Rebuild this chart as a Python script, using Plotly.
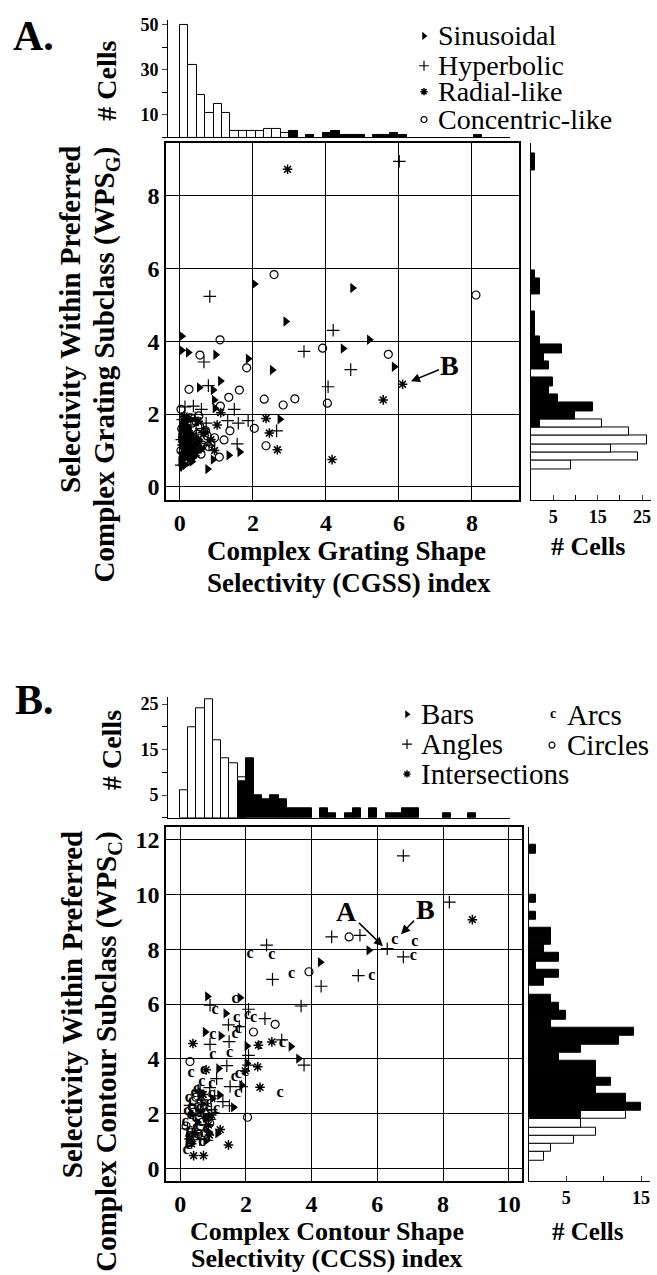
import plotly.graph_objects as go

W, H = 657, 1275
FONT = "Liberation Serif"

# ---------------- Panel A data ----------------
sin_A_x = [2.04, 4.73, 2.90, 5.19, 0.05, 0.05, 0.23, 0.98, 1.87, 2.53, 4.47, 5.87, 1.11, 0.53, 0.91, 0.94, 2.74, 1.64, 1.34, 0.76, 0.91, 0.96,
           0.02, 0.05, 0.08, 0.10, 0.12, 0.15, 0.18, 0.20, 0.03, 0.06, 0.09, 0.13, 0.16, 0.19, 0.22, 0.25, 0.28, 0.31, 0.35, 0.40,
           0.04, 0.07, 0.11, 0.14, 0.17, 0.21, 0.26, 0.30, 0.33, 0.38, 0.45, 0.52, 0.60, 0.02, 0.05, 0.09, 0.12, 0.24, 0.36, 0.48]
sin_A_y = [5.57, 5.46, 4.54, 4.04, 4.14, 3.75, 3.69, 3.63, 3.52, 3.21, 3.80, 3.30, 2.91, 2.73, 2.66, 2.39, 1.86, 0.96, 0.87, 0.49, 0.75, 2.16,
           0.70, 0.85, 0.95, 1.10, 1.25, 0.80, 1.40, 1.00, 1.55, 1.20, 0.65, 1.45, 0.90, 1.30, 1.05, 0.75, 1.15, 0.95, 1.35, 0.85,
           1.70, 1.60, 1.80, 0.60, 1.50, 1.65, 1.25, 1.45, 0.70, 1.10, 0.95, 1.30, 1.05, 1.35, 0.55, 1.75, 1.90, 1.55, 0.80, 1.20]
hyp_A_x = [6.01, 0.82, 4.20, 3.40, 4.68, 4.06, 0.66, 0.78, 1.49, 1.60, 1.87, 2.65, 1.57, 1.31, 0.59, 0.37, 0.14,
           0.05, 0.12, 0.18, 0.24, 0.30, 0.38, 0.45, 0.52, 0.60, 0.08, 0.15, 0.22, 0.33, 0.42, 0.50, 0.66, 0.04, 0.28, 0.72, 0.80]
hyp_A_y = [8.94, 5.23, 4.30, 3.72, 3.22, 2.75, 3.43, 2.78, 2.13, 1.75, 1.82, 1.54, 1.18, 1.82, 2.13, 2.22, 2.20,
           1.30, 0.95, 1.55, 1.20, 1.70, 0.85, 1.45, 1.10, 1.60, 1.85, 1.05, 0.75, 1.35, 1.90, 1.25, 1.50, 0.60, 1.00, 1.75, 1.15]
rad_A_x = [2.95, 6.10, 5.57, 4.17, 2.36, 2.45, 2.67, 1.02, 1.12, 0.25,
           0.06, 0.15, 0.22, 0.35, 0.44, 0.58, 0.70, 0.12, 0.28, 0.50, 0.85, 0.95]
rad_A_y = [8.72, 2.82, 2.39, 0.75, 1.88, 1.48, 1.02, 1.70, 2.04, 1.89,
           1.15, 1.70, 0.90, 1.40, 1.25, 1.05, 1.50, 1.95, 1.10, 1.80, 1.30, 1.00]
con_A_x = [2.58, 8.11, 1.10, 0.55, 1.83, 3.91, 5.71, 0.25, 1.63, 1.34, 2.31, 3.15, 2.83, 4.04, 0.52, 1.11, 0.03, 2.04, 1.37, 2.36, 1.21, 0.78, 1.08,
           0.03, 0.08, 0.14, 0.20, 0.27, 0.33, 0.40, 0.48, 0.55, 0.62, 0.70, 0.10, 0.18, 0.25, 0.36, 0.44, 0.58, 0.66, 0.05, 0.15, 0.30, 0.42, 0.75, 0.85, 0.95]
con_A_y = [5.83, 5.27, 4.04, 3.62, 3.27, 3.81, 3.64, 2.68, 2.66, 2.46, 2.41, 2.42, 2.25, 2.30, 1.95, 2.22, 2.13, 1.61, 1.54, 1.13, 1.29, 1.11, 0.82,
           1.00, 1.35, 0.85, 1.60, 1.20, 1.75, 0.95, 1.45, 1.65, 1.15, 1.55, 1.85, 0.70, 1.40, 1.05, 1.80, 0.90, 1.30, 1.60, 1.15, 1.90, 1.25, 1.40, 1.20, 1.35]

# histogram counts, panel A
topA_bin = 0.23
topA_white = [50, 32, 19, 11, 15, 11, 3, 3, 3, 3, 4, 4, 2]
topA_black = [0, 0, 0, 0, 0, 0, 0, 0, 0, 0, 0, 0, 0, 3, 0, 1, 0, 2, 3, 1, 1, 1, 0, 1, 1, 2, 1, 0, 0, 0, 0, 0, 0, 0, 0, 1]
rightA_start = 0.49
rightA_bin = 0.2277
rightA_white = [9, 24, 18, 26, 22, 16]
rightA_black = [0, 0, 0, 0, 0, 2, 10, 14, 6, 4, 5, 0, 4, 3, 7, 2, 1, 1, 1, 0, 0, 2, 2, 1,
                0, 0, 0, 0, 0, 0, 0, 0, 0, 0, 0, 0, 1, 1]

# ---------------- Panel B data ----------------
bar_B_x = [5.74, 4.26, 0.83, 1.39, 1.82, 0.76, 1.24, 2.03, 3.37, 3.60, 1.17, 1.87, 1.20, 1.62, 1.14, 2.03,
           0.35, 0.52, 0.68, 0.85, 0.98, 0.25, 0.60, 0.78]
bar_B_y = [7.96, 7.53, 6.28, 5.66, 6.23, 4.98, 4.84, 4.47, 4.45, 4.01, 3.65, 3.04, 2.68, 2.23, 1.28, 3.84,
           2.00, 1.70, 2.35, 1.35, 2.55, 1.15, 2.80, 1.00]
ang_B_x = [6.79, 8.19, 4.61, 5.47, 6.30, 6.79, 2.63, 2.81, 4.29, 5.42, 3.68, 3.77, 2.08, 2.58, 1.47, 0.91, 0.91, 1.49, 1.42, 2.08, 2.08, 1.52, 1.87, 1.30, 1.50, 0.61, 1.11, 1.80, 3.09,
           0.30, 0.48, 0.65, 0.80, 0.95, 1.05, 0.38, 0.55, 0.72, 0.22, 0.60, 0.90]
ang_B_y = [11.41, 9.72, 8.45, 8.51, 8.02, 7.72, 8.15, 6.90, 6.65, 7.04, 5.93, 3.77, 5.81, 5.47, 5.24, 5.96, 4.53, 4.63, 3.75, 4.13, 3.77, 2.99, 2.99, 2.44, 2.29, 2.80, 3.28, 5.18, 4.69,
           2.30, 1.95, 2.50, 1.60, 2.15, 2.65, 1.25, 2.85, 1.90, 1.45, 1.05, 2.95]
int_B_x = [8.89, 0.39, 2.38, 2.79, 2.36, 0.79, 2.43, 1.98, 1.47, 0.41, 0.71, 1.22, 0.89, 0.86, 0.27,
           0.45, 0.62, 0.80, 0.35, 0.96, 0.70]
int_B_y = [9.08, 4.56, 4.50, 4.62, 3.71, 3.60, 2.96, 3.56, 0.86, 0.47, 0.47, 1.42, 1.22, 1.59, 1.08,
           1.30, 2.10, 1.85, 0.90, 1.95, 2.70]
arc_B_x = [6.53, 7.14, 7.09, 5.83, 2.13, 2.79, 3.39, 1.67, 1.06, 1.72, 2.23, 2.05, 1.77, 0.99, 1.67, 2.41, 3.11, 0.99, 1.50, 0.33, 0.71, 1.77, 1.98, 1.65, 0.66, 0.96, 1.75, 3.04, 0.25, 0.51, 0.30, 0.61, 0.48, 0.58, 0.18, 0.86, 1.11,
           0.20, 0.35, 0.45, 0.62, 0.75, 0.88, 1.00, 0.28, 0.40, 0.55, 0.70, 0.82, 0.95, 0.15, 0.32, 0.50, 0.66, 0.78, 0.92, 0.42, 0.58, 0.25]
arc_B_y = [8.32, 8.27, 7.75, 7.04, 7.84, 7.78, 7.10, 6.19, 5.77, 5.50, 5.48, 5.59, 5.08, 4.86, 4.90, 4.50, 4.59, 4.13, 4.23, 3.50, 3.60, 3.44, 3.53, 3.32, 3.16, 3.08, 2.75, 2.75, 2.56, 2.29, 1.95, 1.68, 1.50, 1.20, 0.68, 2.23, 2.17,
           2.10, 2.45, 1.85, 2.60, 2.05, 2.40, 1.90, 1.40, 1.10, 1.55, 1.30, 1.75, 2.70, 1.70, 2.25, 2.90, 0.95, 1.45, 1.15, 2.75, 2.20, 0.85]
cir_B_x = [5.14, 3.92, 2.89, 0.30, 2.05, 0.86, 0.30, 2.23,
           0.18, 0.40, 0.56, 0.74, 0.90, 0.32, 0.64, 0.48]
cir_B_y = [8.45, 7.18, 5.26, 3.90, 1.87, 1.87, 1.20, 4.98,
           1.55, 2.05, 1.25, 2.00, 1.65, 0.95, 2.45, 2.60]

topB_bin = 0.25
topB_white = [6, 20, 24, 26, 17, 13, 12, 9]
topB_black = [0, 0, 0, 0, 0, 0, 0, 8, 13, 5, 4, 5, 4, 2, 2, 2, 0, 2, 1, 0, 1, 2, 0, 2, 0, 1, 1, 2, 2, 0, 0, 0, 1, 0, 0, 1]
rightB_start = 0.29
rightB_bin = 0.303
rightB_white = [2, 3, 6, 9, 7, 13]
rightB_black = [0, 0, 0, 0, 0, 7, 15, 13, 9, 11, 9, 9, 4, 7, 12, 14, 3, 5, 4, 3, 0, 2, 4, 1, 4, 2, 3, 3, 0, 1, 0, 1,
                0, 0, 0, 0, 0, 1]

# tick labels
scatterA_ticks = [0, 2, 4, 6, 8]
scatterB_xticks = [0, 2, 4, 6, 8, 10]
scatterB_yticks = [0, 2, 4, 6, 8, 10, 12]
topA_ticks = [10, 30, 50]
rightA_ticks = [5, 15, 25]
topB_ticks = [5, 15, 25]
rightB_ticks = [5, 15]

# ---------------- layout helpers ----------------
def fx(px):
    return px / W

def fy(py):
    return 1 - py / H

fig = go.Figure()

def mk(x, y, sym, size, xa, ya, filled=False, lw=1.2):
    if filled:
        marker = dict(symbol=sym, size=size, color="black", line=dict(width=0))
    else:
        marker = dict(symbol=sym, size=size, color="black", line=dict(color="black", width=lw))
    fig.add_trace(go.Scatter(x=x, y=y, mode="markers", marker=marker, xaxis=xa, yaxis=ya,
                             hoverinfo="skip", cliponaxis=True))

def txt(x, y, t, size, xa, ya):
    fig.add_trace(go.Scatter(x=x, y=y, mode="text", text=[t] * len(x), textposition="middle center",
                             textfont=dict(family=FONT, size=size, color="black", weight="bold"),
                             xaxis=xa, yaxis=ya, hoverinfo="skip"))

def bars_v(counts, start, width, color, xa, ya):
    xs = [start + width * (i + 0.5) for i, c in enumerate(counts) if c > 0]
    ys = [c for c in counts if c > 0]
    fig.add_trace(go.Bar(x=xs, y=ys, width=width, marker=dict(color=color, line=dict(color="black", width=1)),
                         xaxis=xa, yaxis=ya, hoverinfo="skip"))

def bars_h(counts, start, width, color, xa, ya):
    ys = [start + width * (i + 0.5) for i, c in enumerate(counts) if c > 0]
    xs = [c for c in counts if c > 0]
    fig.add_trace(go.Bar(x=xs, y=ys, width=width, orientation="h",
                         marker=dict(color=color, line=dict(color="black", width=1)),
                         xaxis=xa, yaxis=ya, hoverinfo="skip"))

# ---- Panel A scatter ----
mk(con_A_x, con_A_y, "circle-open", 8, "x", "y")
mk(hyp_A_x, hyp_A_y, "cross-thin-open", 9, "x", "y")
mk(rad_A_x, rad_A_y, "asterisk-open", 8, "x", "y", lw=1.5)
mk(sin_A_x, sin_A_y, "triangle-right", 9, "x", "y", filled=True)
# ---- Panel A histograms ----
bars_v(topA_white, 0, topA_bin, "white", "x2", "y2")
bars_v(topA_black, 0, topA_bin, "black", "x2", "y2")
bars_h(rightA_white, rightA_start, rightA_bin, "white", "x3", "y3")
bars_h(rightA_black, rightA_start, rightA_bin, "black", "x3", "y3")

# ---- Panel B scatter ----
mk(cir_B_x, cir_B_y, "circle-open", 8, "x4", "y4")
txt(arc_B_x, arc_B_y, "c", 16, "x4", "y4")
mk(ang_B_x, ang_B_y, "cross-thin-open", 9, "x4", "y4")
mk(int_B_x, int_B_y, "asterisk-open", 8, "x4", "y4", lw=1.5)
mk(bar_B_x, bar_B_y, "triangle-right", 9, "x4", "y4", filled=True)
# ---- Panel B histograms ----
bars_v(topB_white, 0, topB_bin, "white", "x5", "y5")
bars_v(topB_black, 0, topB_bin, "black", "x5", "y5")
bars_h(rightB_white, rightB_start, rightB_bin, "white", "x6", "y6")
bars_h(rightB_black, rightB_start, rightB_bin, "black", "x6", "y6")

# ---- legend markers (overlay pixel axis) ----
mk([424], [31], "triangle-right", 7, "x7", "y7", filled=True)
mk([424], [61], "cross-thin-open", 7, "x7", "y7")
mk([424], [87], "asterisk-open", 6, "x7", "y7", lw=1.5)
mk([424], [115], "circle-open", 6, "x7", "y7")
mk([407], [712], "triangle-right", 7, "x7", "y7", filled=True)
mk([407], [742], "cross-thin-open", 7, "x7", "y7")
mk([407], [772], "asterisk-open", 6, "x7", "y7", lw=1.5)
txt([553], [712], "c", 14, "x7", "y7")
mk([552], [743], "circle-open", 6, "x7", "y7")

tickfont_big = dict(family=FONT, size=24, color="black", weight="bold")
tickfont_small = dict(family=FONT, size=18, color="black", weight="bold")

def scatter_axes(xr, yr, xdom, ydom, xt, yt):
    xa = dict(domain=xdom, range=xr, showgrid=True, gridcolor="black", gridwidth=1,
              zeroline=False, showline=True, mirror=True, linecolor="black", linewidth=1.5,
              ticks="", tickfont=tickfont_big, tickvals=xt, fixedrange=True)
    ya = dict(domain=ydom, range=yr, showgrid=True, gridcolor="black", gridwidth=1,
              zeroline=False, showline=True, mirror=True, linecolor="black", linewidth=1.5,
              ticks="", tickfont=tickfont_big, tickvals=yt, fixedrange=True)
    return xa, ya

xa1, ya1 = scatter_axes([-0.38, 9.29], [-0.36, 9.43], [fx(166), fx(519)], [fy(497), fy(139)],
                        scatterA_ticks, scatterA_ticks)
xa4, ya4 = scatter_axes([-0.43, 10.4], [-0.47, 12.47], [fx(166), fx(522)], [fy(1181), fy(825)],
                        scatterB_xticks, scatterB_yticks)
xa4["anchor"] = "y4"
ya4["anchor"] = "x4"

def hist_x_top(dom, rng, anc):
    return dict(domain=dom, range=rng, showline=True, linecolor="black", linewidth=1,
                showgrid=False, zeroline=False, showticklabels=False, ticks="",
                anchor=anc, fixedrange=True)

def count_axis(dom, rng, anc, tv, minor_step, ticks):
    return dict(domain=dom, range=rng, anchor=anc, showline=True, linecolor="black", linewidth=1,
                showgrid=False, zeroline=False, ticks=ticks, ticklen=5, tickwidth=1,
                tickvals=tv, tickfont=tickfont_small, fixedrange=True,
                minor=dict(ticks=ticks, ticklen=5, tickwidth=1, tick0=0, dtick=minor_step,
                           showgrid=False, tickcolor="black"))

layout = dict(
    width=W, height=H, margin=dict(l=0, r=0, t=0, b=0),
    paper_bgcolor="white", plot_bgcolor="rgba(0,0,0,0)",
    showlegend=False, barmode="overlay", bargap=0,
    font=dict(family=FONT, color="black"),
    xaxis=xa1, yaxis=ya1,
    xaxis2=hist_x_top([fx(168), fx(510)], [-12 / 36.5, 330 / 36.5], "y2"),
    yaxis2=count_axis([fy(133), fy(15)], [0, 52], "x2", topA_ticks, 10, "outside"),
    xaxis3=count_axis([fx(531), fx(651)], [0, 27], "y3", rightA_ticks, 5, "inside"),
    yaxis3=dict(domain=[fy(497), fy(139)], range=[-0.36, 9.43], anchor="x3", showline=True, linecolor="black",
                linewidth=1, showgrid=False, zeroline=False, showticklabels=False, ticks="", fixedrange=True),
    xaxis4=xa4, yaxis4=ya4,
    xaxis5=hist_x_top([fx(168), fx(510)], [-12 / 32.9, 330 / 32.9], "y5"),
    yaxis5=count_axis([fy(816), fy(695)], [0, 26.5], "x5", topB_ticks, 5, "outside"),
    xaxis6=count_axis([fx(529), fx(650)], [0, 16.2], "y6", rightB_ticks, 5, "inside"),
    yaxis6=dict(domain=[fy(1181), fy(825)], range=[-0.47, 12.47], anchor="x6", showline=True, linecolor="black",
                linewidth=1, showgrid=False, zeroline=False, showticklabels=False, ticks="", fixedrange=True),
    xaxis7=dict(domain=[0, 1], range=[0, W], anchor="y7", visible=False, fixedrange=True),
    yaxis7=dict(domain=[0, 1], range=[H, 0], anchor="x7", visible=False, fixedrange=True),
)
fig.update_layout(**layout)

ann = []

def label(px, py, text, size, bold=True, angle=0, xanchor="center", yanchor="middle"):
    t = f"<b>{text}</b>" if bold else text
    ann.append(dict(x=fx(px), y=fy(py), xref="paper", yref="paper", text=t, showarrow=False,
                    textangle=angle, xanchor=xanchor, yanchor=yanchor,
                    font=dict(family=FONT, size=size, color="black")))

# panel letters
label(11, 31, "A.", 42, xanchor="left")
label(13, 698, "B.", 42, xanchor="left")
# histogram y titles
label(107, 76, "# Cells", 28, angle=-90)
label(111, 748, "# Cells", 28, angle=-90)
# right hist titles
label(588, 544, "# Cells", 26)
label(588, 1231, "# Cells", 25)
# x titles
label(346, 548, "Complex Grating Shape", 27)
label(349, 580, "Selectivity (CGSS) index", 27)
label(327, 1231, "Complex Contour Shape", 26)
label(327, 1258, "Selectivity (CCSS) index", 26)
# y titles
label(70, 140, "Selectivity Within Preferred", 29, angle=-90, yanchor="top")
label(106, 140, "Complex Grating Subclass (WPS<sub>G</sub>)", 29, angle=-90, yanchor="top")
label(72, 828, "Selectivity Within Preferred", 29, angle=-90, yanchor="top")
label(108, 828, "Complex Contour Subclass (WPS<sub>C</sub>)", 29, angle=-90, yanchor="top")
# legends
for yy, t in zip([31, 61, 87, 115], ["Sinusoidal", "Hyperbolic", "Radial-like", "Concentric-like"]):
    label(436, yy, t, 28, bold=False, xanchor="left")
for yy, t in zip([712, 742, 772], ["Bars", "Angles", "Intersections"]):
    label(419, yy, t, 29, bold=False, xanchor="left")
for yy, t in zip([713, 743], ["Arcs", "Circles"]):
    label(565, yy, t, 29, bold=False, xanchor="left")

# arrows
ann.append(dict(x=6.33, y=2.90, xref="x", yref="y", ax=39, ay=-16, text="<b>B</b>", showarrow=True,
                arrowhead=2, arrowsize=1.2, arrowwidth=1.5, arrowcolor="black", standoff=0,
                font=dict(family=FONT, size=28, color="black")))
ann.append(dict(x=6.17, y=8.11, xref="x4", yref="y4", ax=-36, ay=-35, text="<b>A</b>", showarrow=True,
                arrowhead=2, arrowsize=1.2, arrowwidth=1.5, arrowcolor="black", standoff=0,
                font=dict(family=FONT, size=28, color="black")))
ann.append(dict(x=6.72, y=8.55, xref="x4", yref="y4", ax=24, ay=-25, text="<b>B</b>", showarrow=True,
                arrowhead=2, arrowsize=1.2, arrowwidth=1.5, arrowcolor="black", standoff=0,
                font=dict(family=FONT, size=28, color="black")))

fig.update_layout(annotations=ann)
fig.write_html("out.html")
